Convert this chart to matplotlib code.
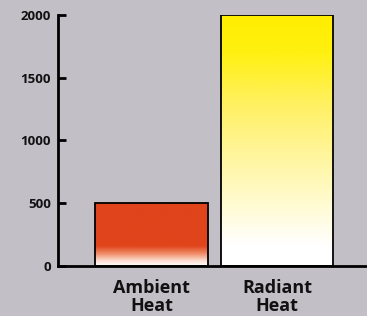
import numpy as np
import matplotlib.pyplot as plt
from matplotlib.colors import LinearSegmentedColormap

categories = ["Ambient\nHeat", "Radiant\nHeat"]
values = [500, 2000]
yticks = [0, 500, 1000, 1500, 2000]

# gradient stops (fraction from bottom of bar, colour)
ambient_stops = [(0.0, "#ffffff"), (0.08, "#fde0d4"), (0.20, "#ef8a66"), (0.32, "#e0441b"), (1.0, "#e0441b")]
radiant_stops = [(0.0, "#ffffff"), (0.08, "#ffffff"), (0.25, "#fffbd0"), (0.45, "#fff59a"),
                 (0.65, "#fff060"), (0.85, "#fff010"), (1.0, "#ffee00")]
stops = [ambient_stops, radiant_stops]

fig = plt.figure(figsize=(3.67, 3.16), dpi=100)
fig.patch.set_facecolor("#c2bfc7")
ax = fig.add_axes([0.158, 0.158, 0.842, 0.795])
ax.set_facecolor("none")

bars = ax.bar(range(len(values)), values, width=0.9, facecolor="none",
              edgecolor="black", linewidth=1.3, zorder=3)

grad = np.linspace(0, 1, 256).reshape(-1, 1)
for bar, st in zip(bars, stops):
    cmap = LinearSegmentedColormap.from_list("g", st)
    x0, y0 = bar.get_x(), bar.get_y()
    w, h = bar.get_width(), bar.get_height()
    im = ax.imshow(grad, cmap=cmap, origin="lower", aspect="auto",
                   extent=[x0, x0 + w, y0, y0 + h], zorder=2)
    im.set_clip_path(bar)

ax.set_xlim(-0.745, 1.717)
ax.set_ylim(0, 2000)
ax.set_yticks(yticks)
ax.set_xticks(range(len(values)))
ax.set_xticklabels(categories, fontsize=13, fontweight="bold",
                   family="Open Sans", linespacing=1.0, color="#111111")
for lab in ax.get_yticklabels():
    lab.set_fontweight("bold")
    lab.set_fontsize(9.5)
    lab.set_family("Open Sans")
    lab.set_color("#111111")

ax.tick_params(axis="y", direction="in", length=6, width=2, pad=5)
ax.tick_params(axis="x", length=0, pad=9)
for s in ["top", "right"]:
    ax.spines[s].set_visible(False)
for s in ["left", "bottom"]:
    ax.spines[s].set_linewidth(2)

fig.savefig("out.png", dpi=100, facecolor=fig.get_facecolor())
